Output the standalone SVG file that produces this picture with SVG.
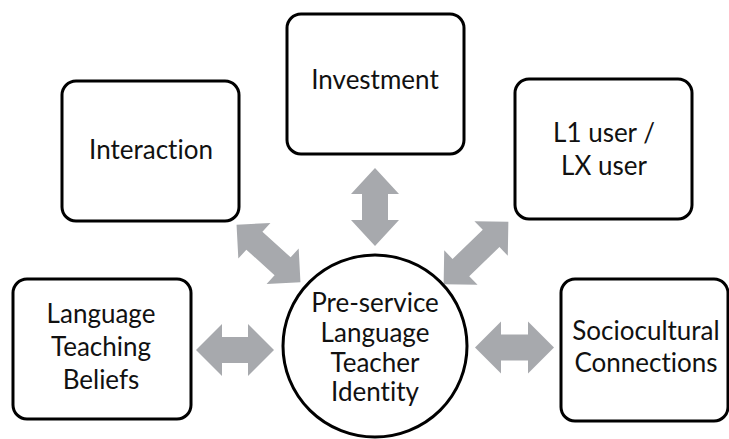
<svg xmlns="http://www.w3.org/2000/svg" width="729" height="439" viewBox="0 0 729 439">
<style>
.box{fill:#fff;stroke:#000;stroke-width:3}
.t{font-family:Lato,"Open Sans","Liberation Sans",sans-serif;font-size:26px;fill:#111;text-anchor:middle;font-variant-ligatures:none;font-feature-settings:"liga" 0,"dlig" 0}
.arr{fill:#a7a9ad}
</style>
<rect width="729" height="439" fill="#fff"/>
<g id="connectors">
<path class="arr" transform="translate(235,350)" d="M-39 0L-13 -26L-13 -13L13 -13L13 -26L39 0L13 26L13 13L-13 13L-13 26Z"/>
<path class="arr" transform="translate(514.5,347.5)" d="M-39.5 0L-13.5 -26L-13.5 -13L13.5 -13L13.5 -26L39.5 0L13.5 26L13.5 13L-13.5 13L-13.5 26Z"/>
<path class="arr" transform="translate(375,207) rotate(90)" d="M-39 0L-13 -24L-13 -13L13 -13L13 -24L39 0L13 24L13 13L-13 13L-13 24Z"/>
<path class="arr" transform="translate(268.5,253.5) rotate(42)" d="M-43 0L-19 -24L-19 -12L19 -12L19 -24L43 0L19 24L19 12L-19 12L-19 24Z"/>
<path class="arr" transform="translate(476,253) rotate(-44)" d="M-45 0L-21 -24L-21 -12L21 -12L21 -24L45 0L21 24L21 12L-21 12L-21 24Z"/>
</g>
<g id="interaction">
<rect class="box" x="62" y="81" width="177" height="140" rx="14"/>
<text class="t" x="151" y="159">Interaction</text>
</g>
<g id="investment">
<rect class="box" x="287" y="14" width="177" height="140" rx="14"/>
<text class="t" x="375" y="89">Investment</text>
</g>
<g id="l1user">
<rect class="box" x="515" y="79" width="177" height="140" rx="14"/>
<text class="t" x="604" y="142">L1 user /</text>
<text class="t" x="604" y="175">LX user</text>
</g>
<g id="beliefs">
<rect class="box" x="13" y="279" width="178" height="140" rx="14"/>
<text class="t" x="101" y="323">Language</text>
<text class="t" x="101" y="356">Teaching</text>
<text class="t" x="101" y="389">Beliefs</text>
</g>
<g id="sociocultural">
<rect class="box" x="561" y="279" width="167" height="142" rx="14"/>
<text class="t" x="646" y="340">Sociocultural</text>
<text class="t" x="646" y="372">Connections</text>
</g>
<g id="identity">
<ellipse class="box" cx="375" cy="346" rx="92" ry="91"/>
<text class="t" x="375" y="312">Pre-service</text>
<text class="t" x="375" y="342">Language</text>
<text class="t" x="375" y="372">Teacher</text>
<text class="t" x="375" y="401">Identity</text>
</g>
</svg>
